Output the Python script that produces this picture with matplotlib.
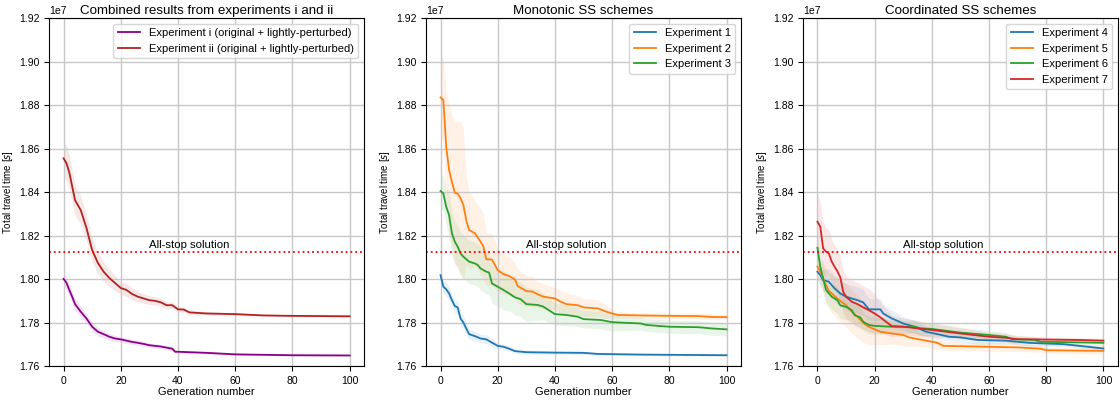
import numpy as np
import matplotlib
matplotlib.use('Agg')
import matplotlib.pyplot as plt

plt.rcParams['font.family'] = ['Liberation Sans', 'DejaVu Sans']
plt.rcParams['font.size'] = 7.5

# ---- data (values in units of 1e7 s) ----
all_stop = 1.8125

# panel 1
gen_i = [0, 1, 2, 3, 4, 6, 8, 10, 12, 14, 16, 18, 20, 22, 24, 26, 28, 30, 34, 38, 39, 40, 50, 60, 70, 80, 100]
mean_i = [1.8001, 1.7983, 1.795, 1.7919, 1.7885, 1.785, 1.7819, 1.7781, 1.7758, 1.7747, 1.7735, 1.7727, 1.7723,
          1.7717, 1.7711, 1.7707, 1.7702, 1.7696, 1.769, 1.768, 1.7666, 1.7666, 1.7661, 1.7654, 1.7652, 1.765, 1.7649]
std_i = [0.003, 0.003, 0.003, 0.003, 0.0028, 0.0025, 0.0022, 0.002, 0.002, 0.0018, 0.0016, 0.0015, 0.0014,
         0.0013, 0.0012, 0.0012, 0.0011, 0.001, 0.001, 0.001, 0.0008, 0.0008, 0.0006, 0.0005, 0.0004, 0.0004, 0.0004]

gen_ii = [0, 1, 2, 4, 6, 8, 10, 12, 14, 16, 18, 20, 22, 24, 26, 28, 30, 32, 34, 36, 38, 40, 42, 44, 50, 60, 70, 80, 90, 100]
mean_ii = [1.8555, 1.8533, 1.849, 1.8363, 1.8317, 1.8235, 1.8133, 1.8074, 1.8034, 1.8005, 1.7982, 1.7959, 1.795,
           1.7931, 1.7919, 1.7911, 1.7903, 1.79, 1.7893, 1.788, 1.788, 1.7861, 1.786, 1.7847, 1.7842, 1.7839,
           1.7833, 1.7831, 1.783, 1.7829]
std_ii = [0.008, 0.008, 0.008, 0.007, 0.0065, 0.006, 0.0055, 0.005, 0.0045, 0.004, 0.0035, 0.003, 0.003,
          0.0028, 0.0025, 0.0022, 0.002, 0.002, 0.0018, 0.0016, 0.0015, 0.0014, 0.0012, 0.001, 0.0008, 0.0006,
          0.0005, 0.0005, 0.0005, 0.0005]

# panel 2
gen_1 = [0, 1, 2, 3, 4, 5, 6, 7, 8, 9, 10, 12, 14, 16, 18, 20, 22, 24, 26, 30, 40, 50, 55, 70, 100]
mean_1 = [1.8018, 1.7965, 1.7953, 1.7934, 1.7903, 1.7876, 1.787, 1.7819, 1.78, 1.7773, 1.7747, 1.7738, 1.7727,
          1.7723, 1.7708, 1.7693, 1.7689, 1.768, 1.7669, 1.7664, 1.7662, 1.7661, 1.7656, 1.7653, 1.765]
std_1 = [0.003, 0.003, 0.003, 0.003, 0.003, 0.003, 0.003, 0.003, 0.003, 0.0028, 0.0025, 0.0022, 0.002,
         0.002, 0.0018, 0.0015, 0.0013, 0.0012, 0.001, 0.001, 0.0008, 0.0007, 0.0006, 0.0005, 0.0005]

gen_2 = [0, 1, 2, 3, 4, 5, 6, 7, 8, 9, 10, 12, 14, 15, 16, 18, 20, 22, 24, 26, 27, 30, 32, 34, 36, 40, 42, 44,
         48, 50, 55, 58, 60, 62, 70, 80, 90, 95, 100]
mean_2 = [1.8835, 1.8823, 1.8608, 1.8501, 1.8447, 1.8397, 1.8393, 1.8372, 1.834, 1.8271, 1.8225, 1.8211, 1.8172,
          1.8149, 1.8091, 1.809, 1.8041, 1.8023, 1.8014, 1.7999, 1.7968, 1.7945, 1.7943, 1.793, 1.7919, 1.7911,
          1.7896, 1.7885, 1.788, 1.787, 1.7865, 1.785, 1.7842, 1.7835, 1.7833, 1.7831, 1.783, 1.7826, 1.7825]
std_2 = [0.017, 0.02, 0.025, 0.03, 0.03, 0.033, 0.033, 0.035, 0.035, 0.02, 0.018, 0.015, 0.015, 0.015, 0.012,
         0.012, 0.01, 0.009, 0.009, 0.008, 0.008, 0.007, 0.007, 0.006, 0.006, 0.005, 0.005, 0.005, 0.0045,
         0.004, 0.004, 0.003, 0.002, 0.0015, 0.0012, 0.0012, 0.0012, 0.0012, 0.0012]

gen_3 = [0, 1, 2, 3, 4, 5, 6, 7, 8, 10, 12, 13, 14, 16, 17, 18, 20, 22, 24, 26, 28, 30, 34, 36, 40, 44, 48, 50,
         56, 60, 70, 72, 80, 90, 95, 100]
mean_3 = [1.8405, 1.8394, 1.8332, 1.8294, 1.821, 1.8172, 1.8149, 1.8118, 1.8103, 1.808, 1.8072, 1.8065, 1.8049,
          1.8034, 1.803, 1.798, 1.7965, 1.795, 1.7934, 1.7916, 1.7908, 1.7885, 1.7881, 1.7873, 1.7839, 1.7835,
          1.7827, 1.7816, 1.7812, 1.7802, 1.7796, 1.7789, 1.7781, 1.7779, 1.7773, 1.7769]
std_3 = [0.007, 0.008, 0.009, 0.01, 0.01, 0.01, 0.01, 0.01, 0.01, 0.01, 0.01, 0.01, 0.01, 0.01, 0.01, 0.009,
         0.009, 0.009, 0.008, 0.008, 0.008, 0.008, 0.007, 0.006, 0.005, 0.005, 0.0045, 0.004, 0.004, 0.004,
         0.003, 0.003, 0.003, 0.003, 0.003, 0.003]

# panel 3
gen_4 = [0, 1, 2, 4, 6, 8, 10, 12, 14, 16, 18, 22, 23, 26, 28, 30, 34, 38, 42, 46, 50, 56, 66, 74, 86, 100]
mean_4 = [1.8034, 1.8018, 1.7995, 1.7988, 1.7957, 1.7934, 1.7919, 1.7911, 1.7903, 1.7893, 1.7861, 1.7861,
          1.7842, 1.7819, 1.7808, 1.7796, 1.7781, 1.7758, 1.7747, 1.7735, 1.7732, 1.772, 1.7717, 1.7707,
          1.7701, 1.7681]
std_4 = [0.004, 0.005, 0.005, 0.006, 0.006, 0.006, 0.006, 0.006, 0.006, 0.006, 0.005, 0.005, 0.004, 0.004,
         0.0035, 0.003, 0.003, 0.0025, 0.002, 0.002, 0.002, 0.002, 0.0015, 0.0015, 0.001, 0.001]

gen_5 = [0, 1, 2, 3, 4, 5, 6, 8, 10, 12, 14, 16, 18, 20, 22, 26, 30, 32, 38, 42, 44, 60, 70, 78, 80, 100]
mean_5 = [1.8057, 1.8034, 1.8003, 1.7972, 1.7946, 1.7934, 1.7922, 1.79, 1.788, 1.785, 1.7827, 1.7799, 1.7781,
          1.7769, 1.7758, 1.775, 1.7743, 1.7732, 1.7717, 1.7707, 1.7693, 1.7689, 1.7686, 1.768, 1.7673, 1.767]
std_5 = [0.005, 0.006, 0.007, 0.008, 0.008, 0.009, 0.009, 0.01, 0.01, 0.01, 0.01, 0.009, 0.008, 0.007, 0.006,
         0.005, 0.005, 0.004, 0.003, 0.003, 0.002, 0.002, 0.002, 0.0015, 0.0015, 0.0015]

gen_6 = [0, 1, 2, 3, 4, 5, 6, 7, 8, 10, 12, 13, 15, 16, 18, 20, 26, 34, 36, 40, 50, 60, 66, 68, 76, 78, 100]
mean_6 = [1.8144, 1.8057, 1.8003, 1.795, 1.7934, 1.7919, 1.7911, 1.7903, 1.7879, 1.7873, 1.7857, 1.7834, 1.7824,
          1.7804, 1.7789, 1.7785, 1.7781, 1.7781, 1.7774, 1.7771, 1.7754, 1.7743, 1.7735, 1.7724, 1.772, 1.7712,
          1.7707]
std_6 = [0.006, 0.006, 0.006, 0.006, 0.006, 0.006, 0.006, 0.006, 0.006, 0.006, 0.005, 0.005, 0.005, 0.004,
         0.004, 0.004, 0.003, 0.003, 0.003, 0.003, 0.0025, 0.002, 0.002, 0.002, 0.0015, 0.0015, 0.0015]

gen_7 = [0, 1, 2, 3, 4, 5, 6, 7, 8, 9, 10, 12, 14, 16, 18, 20, 22, 24, 26, 30, 40, 50, 60, 66, 70, 92, 100]
mean_7 = [1.8264, 1.8241, 1.8141, 1.8126, 1.8118, 1.808, 1.8057, 1.8035, 1.8008, 1.7942, 1.7919, 1.7896,
          1.7885, 1.787, 1.7857, 1.7842, 1.7824, 1.7804, 1.7784, 1.7781, 1.7766, 1.775, 1.7735, 1.773, 1.7724,
          1.772, 1.7717]
std_7 = [0.012, 0.012, 0.012, 0.011, 0.011, 0.01, 0.01, 0.01, 0.01, 0.01, 0.01, 0.01, 0.01, 0.01, 0.01, 0.009,
         0.007, 0.006, 0.005, 0.004, 0.003, 0.0025, 0.002, 0.002, 0.0015, 0.001, 0.001]

titles = ['Combined results from experiments i and ii', 'Monotonic SS schemes', 'Coordinated SS schemes']

panels = [
    [(gen_i, mean_i, std_i, 'Experiment i (original + lightly-perturbed)', 'darkmagenta'),
     (gen_ii, mean_ii, std_ii, 'Experiment ii (original + lightly-perturbed)', 'firebrick')],
    [(gen_1, mean_1, std_1, 'Experiment 1', 'C0'),
     (gen_2, mean_2, std_2, 'Experiment 2', 'C1'),
     (gen_3, mean_3, std_3, 'Experiment 3', 'C2')],
    [(gen_4, mean_4, std_4, 'Experiment 4', 'C0'),
     (gen_5, mean_5, std_5, 'Experiment 5', 'C1'),
     (gen_6, mean_6, std_6, 'Experiment 6', 'C2'),
     (gen_7, mean_7, std_7, 'Experiment 7', 'C3')],
]

fig, axes = plt.subplots(1, 3, figsize=(11.2, 4.01), dpi=100)
fig.subplots_adjust(left=0.044, right=0.998, bottom=0.087, top=0.955, wspace=0.198)

for ax, title, series in zip(axes, titles, panels):
    for g, m, s, lab, col in series:
        g = np.array(g)
        m = np.array(m) * 1e7
        s = np.array(s) * 1e7
        ax.fill_between(g, m - s, m + s, color=col, alpha=0.1, linewidth=0)
        ax.plot(g, m, color=col, lw=1.3, label=lab)
    ax.axhline(all_stop * 1e7, color='red', ls=':', lw=1.3)
    ax.text(30, all_stop * 1e7 + 0.0007e7, 'All-stop solution', fontsize=8.2, va='bottom', ha='left')
    ax.set_ylim(1.76e7, 1.92e7)
    ax.set_yticks(np.arange(1.76, 1.921, 0.02) * 1e7)
    ax.set_xlim(-5, 105)
    ax.grid(True, lw=1, color='#c8c8c8')
    ax.set_title(title, fontsize=9.6, pad=3)
    ax.set_xlabel('Generation number', fontsize=8, labelpad=1)
    ax.set_ylabel(r'Total travel time [$s$]', fontsize=7, labelpad=3)
    ax.legend(loc='upper right', fontsize=8)

fig.savefig('out.png')
